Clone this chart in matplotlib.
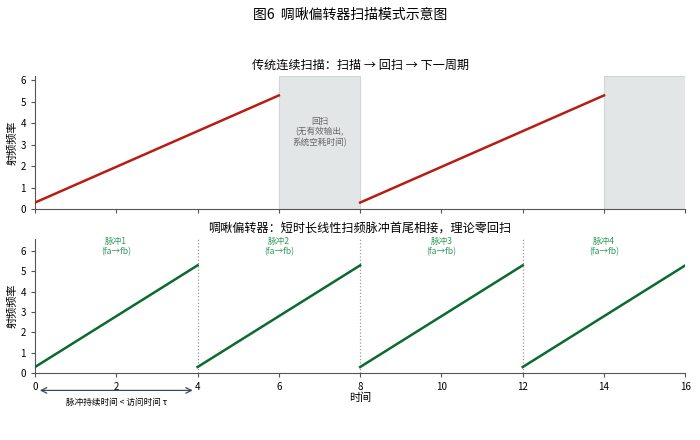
import matplotlib
matplotlib.use("Agg")
import matplotlib.pyplot as plt

plt.rcParams['font.family'] = ['Noto Sans CJK SC', 'DejaVu Sans']

# --- data ---
f_start = 0.3
f_end = 5.3
# 传统扫描：扫描段与回扫段
scan_t = [[0, 6], [8, 14]]
flyback = [(6, 8), (14, 16)]
# 啁啾：四个首尾相接的脉冲
chirp_t = [[0, 4], [4, 8], [8, 12], [12, 16]]
pulse_names = ["脉冲1", "脉冲2", "脉冲3", "脉冲4"]
boundaries = [4, 8, 12]
xticks = [0, 2, 4, 6, 8, 10, 12, 14, 16]
yticks = [0, 1, 2, 3, 4, 5, 6]

red = "#b81d13"
green = "#0b6b2e"
label_green = "#2e9a5a"
gray = "#e3e6e6"

fig = plt.figure(figsize=(7, 4.4), dpi=100)
ax1 = fig.add_axes([0.05, 0.525, 0.929, 0.302])
ax2 = fig.add_axes([0.05, 0.152, 0.929, 0.305])

fig.text(0.5, 0.966, "图6  啁啾偏转器扫描模式示意图", ha="center", va="center", fontsize=10)

# 上图：传统连续扫描
for t in scan_t:
    ax1.plot(t, [f_start, f_end], color=red, lw=1.8, zorder=3)
for a, b in flyback:
    ax1.axvspan(a, b, color=gray, zorder=1, lw=0.8, ec="#d0d6d6")
ax1.text(7, 3.6, "回扫\n(无有效输出,\n系统空耗时间)", ha="center", va="center",
         fontsize=6.2, color="#666666", linespacing=1.2)
ax1.set_xlim(0, 16)
ax1.set_ylim(0, 6.2)
ax1.set_xticks(xticks)
ax1.set_xticklabels([])
ax1.set_yticks(yticks)
ax1.set_ylabel("射频频率", fontsize=8, labelpad=2)
ax1.set_title("传统连续扫描：扫描 → 回扫 → 下一周期", fontsize=8.7, pad=5)

# 下图：啁啾偏转器
for i, t in enumerate(chirp_t):
    ax2.plot(t, [f_start, f_end], color=green, lw=1.8, zorder=3)
    mid = (t[0] + t[1]) / 2
    ax2.text(mid, 6.2, pulse_names[i] + "\n(fa→fb)", ha="center", va="center",
             fontsize=6.2, color=label_green, linespacing=1.15)
for b in boundaries:
    ax2.axvline(b, color="#999999", ls=":", lw=0.9, zorder=2)
ax2.set_xlim(0, 16)
ax2.set_ylim(0, 6.6)
ax2.set_xticks(xticks)
ax2.set_yticks(yticks)
ax2.set_xlabel("时间", fontsize=8, labelpad=0)
ax2.set_ylabel("射频频率", fontsize=8, labelpad=2)
ax2.set_title("啁啾偏转器：短时长线性扫频脉冲首尾相接，理论零回扫", fontsize=8.7, pad=5)

ax2.annotate("", xy=(3.95, -0.85), xytext=(0.05, -0.85), xycoords="data",
             arrowprops=dict(arrowstyle="<->", color="#3a4a5a", lw=0.9),
             annotation_clip=False)
ax2.text(2, -1.45, "脉冲持续时间 < 访问时间 τ", ha="center", va="center",
         fontsize=6.2, clip_on=False)

for ax in (ax1, ax2):
    ax.spines["top"].set_visible(False)
    ax.spines["right"].set_visible(False)
    ax.spines["left"].set_color("#555555")
    ax.spines["bottom"].set_color("#555555")
    ax.tick_params(labelsize=7, length=3, color="#555555", width=0.8)

fig.savefig("out.png", dpi=100)
